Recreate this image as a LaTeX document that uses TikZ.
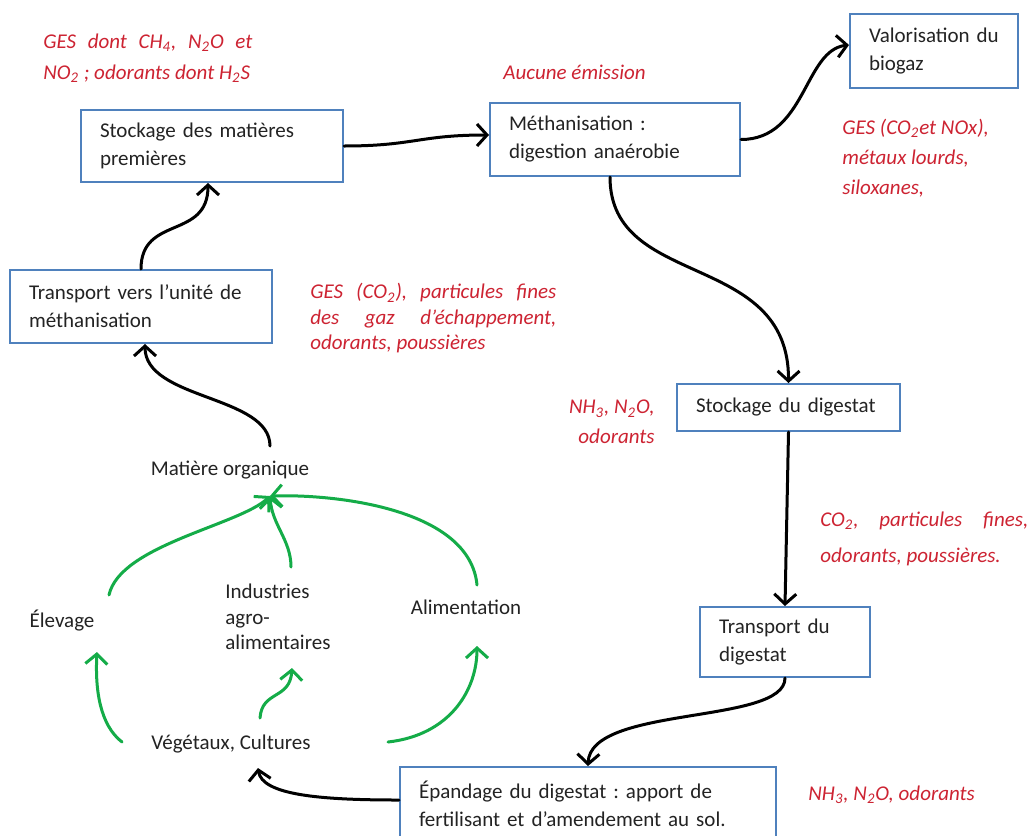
\documentclass[tikz,border=0pt]{standalone}
\usepackage{fontspec}
\setmainfont{Carlito}
\usetikzlibrary{arrows.meta}
\definecolor{boxblue}{RGB}{79,129,189}
\definecolor{emred}{RGB}{205,35,50}
\definecolor{leafgreen}{RGB}{20,172,72}
\definecolor{txt}{RGB}{35,35,35}
\tikzset{
  procbox/.style={draw=boxblue, line width=1pt, fill=white, text=txt, align=left,
    inner xsep=9.5pt, inner ysep=0pt, font=\fontsize{10.5pt}{14pt}\selectfont},
  emis/.style={text=emred, inner sep=0pt},
  plain/.style={text=txt, inner sep=0pt, font=\fontsize{10.5pt}{12.75pt}\selectfont},
  flow/.style={line width=1.5pt, line cap=round,
    -{Straight Barb[length=5pt,width=11pt,line width=1.5pt]}},
  gflow/.style={flow, draw=leafgreen},
}
\newcommand{\sub}[1]{\textsubscript{#1}}
\frenchspacing
\begin{document}
\frenchspacing
\begin{tikzpicture}[x=0.5pt,y=-0.5pt]
\useasboundingbox (0,0) rectangle (1031,835);
\fill[white] (0,0) rectangle (1031,835);
\clip (0,0) rectangle (1031,835);

% process boxes
\node[procbox, text width=112pt, minimum height=36pt] (A) at (212,146) {Stockage des matières\\premières};
\node[procbox, text width=106pt, minimum height=36.5pt] (B) at (615,139.5) {Méthanisation :\\digestion anaérobie};
\node[procbox, text width=65pt, minimum height=37pt] (C) at (934,51) {Valorisation du\\biogaz};
\node[procbox, text width=112pt, minimum height=36.5pt] (D) at (141,306.5) {Transport vers l’unité de\\méthanisation};
\node[procbox, text width=92.5pt, minimum height=23.5pt] (E) at (788.5,407.5) {Stockage du digestat};
\node[procbox, text width=66pt, minimum height=35pt] (F) at (785,642) {Transport du\\digestat};
\node[procbox, text width=169pt, minimum height=36.5pt] (G) at (588,803.5) {Épandage du digestat : apport de\\fertilisant et d’amendement au sol.};

% plain labels
\node[plain] (M) at (230,470) {Matière organique};
\node[plain] (L) at (62,621) {Élevage};
\node[plain, anchor=west, align=left] (I) at (225,617) {Industries\\agro-\\alimentaires};
\node[plain] (N) at (466,607) {Alimentation};
\node[plain] (V) at (231,744) {Végétaux, Cultures};

% emission labels
\node[emis, anchor=west, align=left, font=\fontsize{10.5pt}{15.5pt}\selectfont\itshape] (r1) at (43,58.5)
  {\makebox[104.5pt][s]{GES dont CH\sub{4}, N\sub{2}O et}\\NO\sub{2} ; odorants dont H\sub{2}S};
\node[emis, anchor=west, font=\fontsize{10.5pt}{15pt}\selectfont\itshape] (r2) at (503,72) {Aucune émission};
\node[emis, anchor=west, align=left, font=\fontsize{10.5pt}{15pt}\selectfont\itshape] (r3) at (842,158)
  {GES (CO\sub{2}et NOx),\\métaux lourds,\\siloxanes,};
\node[emis, anchor=west, align=left, font=\fontsize{10.5pt}{12.75pt}\selectfont\itshape] (r4) at (310,318.5)
  {\makebox[123pt][s]{GES (CO\sub{2}), particules fines}\\\makebox[123pt][s]{des gaz d’échappement,}\\odorants, poussières};
\node[emis, anchor=east, align=right, font=\fontsize{10.5pt}{15pt}\selectfont\itshape] (r5) at (655,422)
  {NH\sub{3}, N\sub{2}O,\\odorants};
\node[emis, anchor=west, align=left, font=\fontsize{10.5pt}{18pt}\selectfont\itshape] (r6) at (820,539)
  {\makebox[104pt][s]{CO\sub{2}, particules fines,}\\odorants, poussières.};
\node[emis, anchor=west, font=\fontsize{10.5pt}{15pt}\selectfont\itshape] (r7) at (808,795) {NH\sub{3}, N\sub{2}O, odorants};

% named free ends
\coordinate (mtip) at (270,496);
\coordinate (vtip) at (258,768);
\coordinate (elevOut) at (109,595);
\coordinate (indOut) at (291,567);
\coordinate (alimOut) at (477,585);
\coordinate (vegL) at (122,742);
\coordinate (vegM) at (260,718);
\coordinate (vegR) at (388,742);
\coordinate (elevIn) at (97,652);
\coordinate (indIn) at (292,668);
\coordinate (alimIn) at (477,646);
\coordinate (morgOut) at (270,446);

% black flows
\draw[flow] (A.east) .. controls +(70,0) and +(-70,0) .. ([yshift=2.25pt]B.west);
\draw[flow] (B.east) .. controls +(65,0) and +(-45,5) .. ([yshift=3pt]C.west);
\draw[flow] ([xshift=-2.5pt]B.south) .. controls (610,290) and (789,250) .. (E.north);
\draw[flow] (E.south) -- (F.north);
\draw[flow] (F.south) .. controls (785,725) and (590,705) .. (G.north);
\draw[flow] ([yshift=1.75pt]G.west) .. controls (320,800) and (262,795) .. (vtip);
\draw[flow] (morgOut) .. controls (270,395) and (145,400) .. ([xshift=2pt]D.south);
\draw[flow] (D.north) .. controls (141,215) and (208,240) .. ([xshift=-2pt]A.south);

% green flows
\draw[gflow] (vegL) .. controls (100,725) and (95,690) .. (elevIn);
\draw[gflow] (vegM) .. controls (262,690) and (290,700) .. (indIn);
\draw[gflow] (vegR) .. controls (450,735) and (477,690) .. (alimIn);
\draw[gflow] (elevOut) .. controls (120,545) and (240,525) .. (mtip);
\draw[gflow] (indOut) .. controls (291,540) and (272,525) .. (mtip);
\draw[gflow] (alimOut) .. controls (470,510) and (340,494) .. (mtip);
\end{tikzpicture}
\end{document}
